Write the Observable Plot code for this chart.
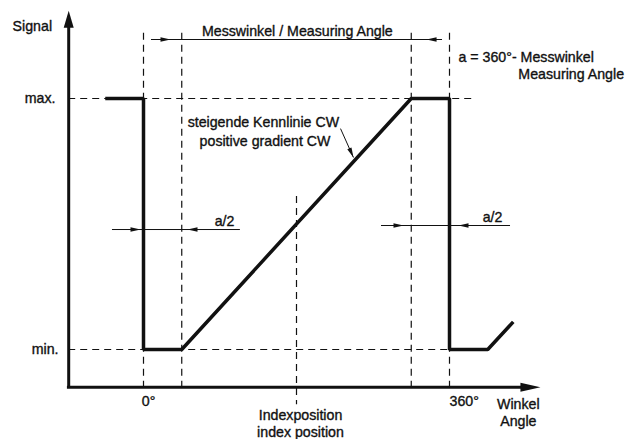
<!DOCTYPE html>
<html><head><meta charset="utf-8">
<script src="https://cdn.jsdelivr.net/npm/d3@7"></script>
<script src="https://cdn.jsdelivr.net/npm/@observablehq/plot@0.6"></script>
<style>html,body{margin:0;padding:0;background:#fff;} svg{display:block}</style>
</head><body><div id="chart"></div>
<script>
// Signal curve (angle in degrees, signal 0 = min, 1 = max)
const curveAngle  = [-45, 0, 0, 45, 315, 360, 360, 405, 435];
const curveSignal = [1, 1, 0, 0, 1, 1, 0, 0, 0.11];

// Vertical dashed guides
const guideAngle  = [0, 45, 315, 360, 180];
const guideTop    = [1.26, 1.26, 1.26, 1.26, 0.61];
const guideBottom = [-0.15, -0.15, -0.15, -0.15, -0.22];

// Horizontal dashed levels (max, min)
const levelSignal = [1, 0];
const levelEnd    = [391, 360];

// Axes
const axisAngle = -88, axisSignal = -0.15;
const axisTipSignal = 1.35, axisLineSignal = 1.31;
const axisTipAngle = 467, axisLineAngle = 455;

// Dimension lines (Messwinkel, a/2 left, a/2 right)
const dimSignal = [1.235, 0.478, 0.494];
const dimFrom   = [9.4, -36.5, 280];
const dimTo     = [351.8, 114, 431.8];

// Dimension arrowheads
const headAngle  = [31.8, 333, -3.5, 51.8, 305.9, 370.6];
const headSignal = [1.235, 1.235, 0.478, 0.478, 0.494, 0.494];
const headDir    = [90, -90, 90, -90, 90, -90];

// Leader arrow for the curve annotation
const leaderFrom = [231.8, 0.88];
const leaderTo   = [247, 0.765];
const leaderDir  = 156;

// Labels
const labelText = ["Signal", "max.", "min.", "0°", "360°", "Winkel", "Angle",
  "Indexposition", "index position", "Messwinkel / Measuring Angle",
  "a = 360°- Messwinkel", "Measuring Angle", "steigende Kennlinie CW",
  "positive gradient CW", "a/2", "a/2"];
const labelAngle = [-154, -103.5, -100, 6, 360, 441, 441,
  184.7, 184.7, 181,
  370.6, 441, 141,
  143, 95.3, 410.6];
const labelSignal = [1.287, 1, 0, -0.207, -0.207, -0.219, -0.287,
  -0.263, -0.331, 1.267,
  1.163, 1.096, 0.904,
  0.829, 0.51, 0.526];
const labelAnchor = ["start", "end", "end", "middle", "start", "middle", "middle",
  "middle", "middle", "middle",
  "start", "start", "middle",
  "middle", "middle", "middle"];

const curve = curveAngle.map((a, i) => ({a, s: curveSignal[i]}));
const guides = guideAngle.map((a, i) => ({a, top: guideTop[i], bottom: guideBottom[i]}));
const levels = levelSignal.map((s, i) => ({s, x1: axisAngle, x2: levelEnd[i]}));
const dims = dimSignal.map((s, i) => ({s, x1: dimFrom[i], x2: dimTo[i]}));
const heads = headAngle.map((a, i) => ({a, s: headSignal[i], dir: headDir[i]}));
const labels = labelText.map((t, i) => ({t, a: labelAngle[i], s: labelSignal[i], anchor: labelAnchor[i]}));

const triangle = {
  draw(c, l, r) { c.moveTo(0, -l); c.lineTo(r, 0); c.lineTo(-r, 0); c.closePath(); }
};

const ink = "#111";
const dash = "7,5";
const textMarks = ["start", "middle", "end"].map(anchor =>
  Plot.text(labels.filter(d => d.anchor === anchor), {
    x: "a", y: "s", text: "t", textAnchor: anchor, fontSize: 14.2,
    fill: ink, stroke: ink, strokeWidth: 0.35
  }));

const chart = Plot.plot({
  width: 634, height: 439,
  marginLeft: 143, marginRight: 185, marginTop: 98, marginBottom: 90,
  x: {domain: [0, 360], axis: null},
  y: {domain: [0, 1], axis: null},
  style: {background: "#fff", fontFamily: "'Liberation Sans', Arial, sans-serif"},
  marks: [
    // dashed guides
    Plot.ruleX(guides, {x: "a", y1: "top", y2: "bottom", stroke: ink, strokeWidth: 1.2, strokeDasharray: dash}),
    Plot.ruleY(levels, {y: "s", x1: "x1", x2: "x2", stroke: ink, strokeWidth: 1.2, strokeDasharray: dash}),
    // dimension lines
    Plot.ruleY(dims, {y: "s", x1: "x1", x2: "x2", stroke: ink, strokeWidth: 1}),
    Plot.vector(heads, {x: "a", y: "s", rotate: "dir", length: 10, r: 2.3, anchor: "end",
      shape: triangle, fill: ink, stroke: "none"}),
    // leader arrow
    Plot.link([0], {x1: () => leaderFrom[0], y1: () => leaderFrom[1], x2: () => leaderTo[0], y2: () => leaderTo[1], stroke: ink, strokeWidth: 1}),
    Plot.vector([0], {x: () => leaderTo[0], y: () => leaderTo[1], rotate: leaderDir, length: 10, r: 2.3, anchor: "end",
      shape: triangle, fill: ink, stroke: "none"}),
    // axes
    Plot.ruleX([axisAngle], {y1: axisSignal, y2: axisLineSignal, stroke: ink, strokeWidth: 3}),
    Plot.ruleY([axisSignal], {x1: axisAngle - 1.5, x2: axisLineAngle, stroke: ink, strokeWidth: 3}),
    Plot.vector([0], {x: () => axisAngle, y: () => axisTipSignal, rotate: 0, length: 17, r: 5, anchor: "end",
      shape: triangle, fill: ink, stroke: "none"}),
    Plot.vector([0], {x: () => axisTipAngle, y: () => axisSignal, rotate: 90, length: 20, r: 4.5, anchor: "end",
      shape: triangle, fill: ink, stroke: "none"}),
    // signal curve
    Plot.line(curve, {x: "a", y: "s", stroke: ink, strokeWidth: 3.5, strokeLinejoin: "miter", strokeLinecap: "butt"}),
    // labels
    ...textMarks
  ]
});
document.getElementById("chart").appendChild(chart);
</script></body></html>
